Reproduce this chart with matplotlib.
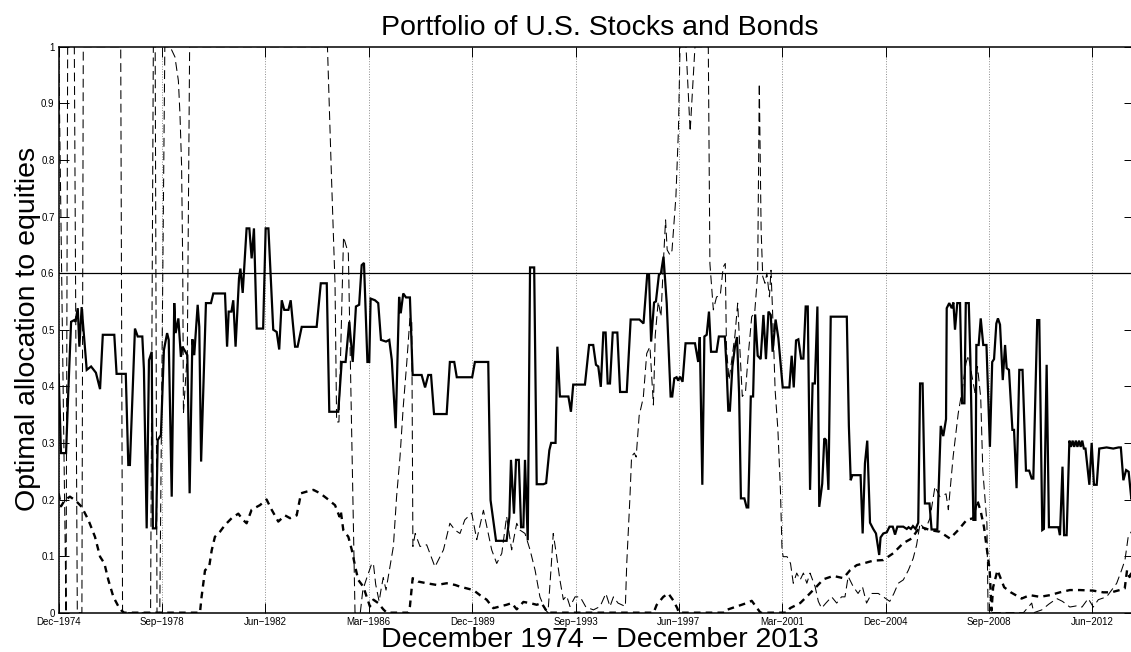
import matplotlib
matplotlib.use("Agg")
import matplotlib.pyplot as plt

plt.rcParams['font.family'] = ['Liberation Sans', 'DejaVu Sans']

# ---------------- data (x = months since Dec-1974) ----------------
tick_months = [0, 45, 90, 135, 180, 225, 270, 315, 360, 405, 450]
tick_labels = ['Dec\u22121974', 'Sep\u22121978', 'Jun\u22121982', 'Mar\u22121986',
               'Dec\u22121989', 'Sep\u22121993', 'Jun\u22121997', 'Mar\u22122001',
               'Dec\u22122004', 'Sep\u22122008', 'Jun\u22122012']
y_ticks = [0, 0.1, 0.2, 0.3, 0.4, 0.5, 0.6, 0.7, 0.8, 0.9, 1.0]
y_tick_labels = ['0', '0.1', '0.2', '0.3', '0.4', '0.5', '0.6', '0.7', '0.8', '0.9', '1']
benchmark = 0.6
n_months = 468

solid_m = [0, 1, 3.2, 4.2, 5.4, 6.8, 7.3, 8.3, 9.0, 10, 12.2, 14.1, 16.2, 18, 19.2, 24.2, 25.2, 29.2,
           30.3, 31, 33.2, 34.4, 36.4, 37.1, 38.3, 39.3, 40.5, 41, 42.4, 43.1, 44.5, 45.8, 47.2, 47.9,
           49.2, 50.3, 50.9, 52.1, 53.2, 53.9, 56, 57, 58.2, 59, 60.5, 61.2, 62, 64.1, 66.3, 67.3,
           72.4, 73.3, 74, 75.2, 76, 77, 78.5, 79.1, 80.1, 81.8, 83, 84, 85, 86.2, 89, 90.1, 91.3,
           93.4, 94.9, 96, 97.1, 98.2, 100, 101, 102.9, 104, 105.8, 112.3, 114.1, 116.7, 117.8, 121.7,
           123.2, 124.9, 126.5, 128, 129.4, 130.8, 131.9, 132.9, 134.4, 135.2, 135.8, 137.7, 139.1,
           140.3, 142.5, 143.9, 145, 146.7, 148.2, 148.9, 150, 151.2, 152.9, 154.1, 158, 159.5, 160.9,
           162.1, 163.4, 168.9, 170.3, 172.2, 173.3, 180, 181.2, 187, 188, 188.8, 190.4, 195, 196.2,
           196.9, 198.2, 199.1, 200.3, 201.3, 202.3, 203, 204.2, 205.2, 207, 208.1, 211, 212.2, 213.6,
           214.4, 216.3, 217.1, 218.2, 221.9, 223, 224, 229.1, 230.9, 232.7, 233.9, 234.9, 236, 237.1,
           238.1, 239, 240, 241.2, 243.2, 244.4, 247.3, 249, 252.8, 254.6, 256.2, 257, 257.9, 259.2,
           260, 261.3, 262.2, 263.3, 264.7, 266.4, 267.1, 268, 269, 269.7, 270.5, 271.6, 272.9, 277,
           278.4, 279.1, 280.2, 281.1, 282.1, 283.1, 284, 286.4, 287.4, 290, 290.7, 291.5, 292.2,
           293.3, 294.4, 295.3, 296.2, 297, 298.5, 299.5, 300.2, 301.3, 302.3, 303.2, 304.3, 305.6,
           306.8, 307.9, 309, 310, 310.8, 312.1, 313.3, 315.2, 318.1, 319.1, 320, 321, 322, 323.2,
           324.2, 325.2, 326.1, 327.1, 328.2, 329.2, 330.3, 331.1, 332.4, 333.3, 334.1, 335.1, 336.1,
           343.1, 344, 344.8, 345.5, 349.1, 350, 351, 352, 353.2, 354.6, 355.8, 357.2, 357.8, 359,
           360.5, 361.7, 363.1, 364.1, 365.1, 367.7, 369.2, 370, 371, 371.9, 373, 374.2, 375, 376.1,
           377.1, 379.1, 380, 382.5, 384, 385.1, 386.3, 386.6, 387.7, 388.8, 389.5, 390.2, 391.2,
           392.4, 393.3, 394.3, 394.9, 396.2, 396.9, 398.2, 399.1, 399.5, 400.5, 401.4, 402.5, 403.9,
           405.4, 406.4, 407.2, 408.2, 408.9, 409.8, 411, 412, 412.7, 413.7, 415.2, 415.9, 417, 418.2,
           419.6, 421.1, 422.5, 423.6, 424.3, 426, 426.9, 428.2, 428.9, 430.1, 431.1, 435.2, 435.9,
           437, 437.7, 438.8, 440, 440.7, 441.4, 442.1, 442.8, 443.5, 444.2, 444.9, 445.6, 446.3, 447,
           448.7, 449.7, 450.7, 451.9, 453, 456.2, 459.1, 461.4, 462.4, 463.5, 464.7, 465.8, 467, 468]
solid_v = [0.42, 0.282, 0.282, 0.393, 0.514, 0.517, 0.514, 0.538, 0.47, 0.54, 0.429, 0.435, 0.424, 0.395,
           0.491, 0.491, 0.422, 0.422, 0.261, 0.261, 0.502, 0.488, 0.488, 0.43, 0.149, 0.446, 0.461,
           0.149, 0.149, 0.305, 0.314, 0.464, 0.494, 0.482, 0.205, 0.547, 0.494, 0.52, 0.452, 0.47,
           0.455, 0.211, 0.483, 0.455, 0.544, 0.505, 0.267, 0.547, 0.547, 0.564, 0.564, 0.47, 0.532,
           0.532, 0.552, 0.47, 0.591, 0.608, 0.565, 0.679, 0.679, 0.626, 0.679, 0.502, 0.502, 0.679,
           0.679, 0.5, 0.496, 0.465, 0.552, 0.535, 0.535, 0.552, 0.47, 0.47, 0.505, 0.505, 0.582,
           0.582, 0.355, 0.355, 0.443, 0.443, 0.514, 0.443, 0.541, 0.544, 0.614, 0.618, 0.443, 0.443,
           0.555, 0.552, 0.547, 0.482, 0.479, 0.482, 0.447, 0.326, 0.558, 0.529, 0.564, 0.557, 0.557,
           0.42, 0.42, 0.398, 0.42, 0.42, 0.351, 0.351, 0.443, 0.443, 0.416, 0.416, 0.443, 0.443,
           0.199, 0.175, 0.127, 0.127, 0.169, 0.27, 0.175, 0.27, 0.27, 0.151, 0.151, 0.27, 0.128,
           0.61, 0.61, 0.227, 0.227, 0.229, 0.287, 0.3, 0.3, 0.47, 0.382, 0.382, 0.355, 0.403, 0.403,
           0.473, 0.473, 0.438, 0.435, 0.399, 0.495, 0.495, 0.405, 0.405, 0.495, 0.495, 0.39, 0.39,
           0.518, 0.518, 0.511, 0.597, 0.597, 0.479, 0.548, 0.55, 0.597, 0.6, 0.629, 0.547, 0.382,
           0.382, 0.414, 0.416, 0.41, 0.417, 0.408, 0.476, 0.476, 0.443, 0.487, 0.226, 0.488, 0.491,
           0.532, 0.461, 0.461, 0.488, 0.488, 0.438, 0.357, 0.357, 0.435, 0.47, 0.487, 0.388, 0.202,
           0.202, 0.186, 0.186, 0.382, 0.382, 0.527, 0.454, 0.448, 0.526, 0.448, 0.532, 0.526, 0.461,
           0.518, 0.485, 0.398, 0.398, 0.454, 0.398, 0.481, 0.483, 0.449, 0.449, 0.541, 0.541, 0.217,
           0.405, 0.405, 0.541, 0.187, 0.228, 0.308, 0.305, 0.217, 0.523, 0.523, 0.33, 0.234, 0.243,
           0.243, 0.14, 0.264, 0.304, 0.159, 0.148, 0.14, 0.102, 0.133, 0.14, 0.142, 0.152, 0.152,
           0.138, 0.152, 0.152, 0.148, 0.151, 0.148, 0.153, 0.148, 0.159, 0.405, 0.405, 0.193, 0.193,
           0.147, 0.147, 0.33, 0.312, 0.342, 0.538, 0.547, 0.538, 0.548, 0.5, 0.547, 0.547, 0.37,
           0.37, 0.547, 0.547, 0.448, 0.164, 0.164, 0.473, 0.473, 0.52, 0.473, 0.473, 0.293, 0.443,
           0.448, 0.511, 0.52, 0.509, 0.411, 0.473, 0.432, 0.429, 0.323, 0.323, 0.22, 0.429, 0.429,
           0.251, 0.251, 0.237, 0.237, 0.517, 0.517, 0.146, 0.148, 0.438, 0.151, 0.151, 0.137, 0.258,
           0.137, 0.137, 0.304, 0.293, 0.304, 0.293, 0.304, 0.293, 0.304, 0.293, 0.304, 0.29, 0.29,
           0.226, 0.3, 0.226, 0.226, 0.29, 0.292, 0.29, 0.292, 0.292, 0.234, 0.252, 0.249, 0.2, 0.21]

thin_m = [0, 3.2, 3.9, 6.8, 8.1, 10.1, 10.7, 27, 27.8, 40, 41.2, 42, 42.8, 44, 46.2, 48.5, 50.6, 52.1,
          52.8, 53.5, 54, 54.3, 56, 57, 117, 118.1, 118.8, 119.5, 120.3, 121, 122, 124, 126.1, 129,
          131.3, 132.4, 134, 136.3, 137, 138, 139.5, 140.5, 141.3, 142.5, 145.7, 147.1, 148.6, 150,
          151.5, 152.9, 153.7, 154.2, 155.2, 157.3, 160.2, 163.8, 167.5, 170.3, 172.5, 174.7, 176.8,
          179.8, 182, 184.9, 187, 188.5, 190.7, 192.9, 195, 197.2, 199.4, 200.8, 203, 205.2, 207.4,
          209.5, 211.7, 213, 214.4, 215.3, 216.8, 218.2, 219.7, 221.1, 222.6, 224.8, 227, 229.5,
          232.8, 235.7, 238.2, 240, 241.5, 243.5, 246.7, 247.3, 248.7, 249.4, 250.6, 251.4, 252.7,
          254.5, 256, 257.4, 258.9, 259.7, 261, 262.2, 263.3, 264.2, 264.9, 266.1, 267, 268.7, 269.8,
          270.5, 273.1, 274.9, 277, 282.8, 283.5, 285, 286.4, 288, 289.3, 290.2, 290.7, 291.8, 293,
          294.4, 295.6, 296.5, 297.6, 299, 300, 301.7, 303, 304.3, 305, 305.8, 306.5, 307.5, 308.3,
          309.4, 310.1, 310.8, 311.9, 313.1, 314.2, 314.9, 315.4, 317.1, 318.6, 319.8, 321.3, 322.8,
          324.2, 325.7, 327.1, 329.3, 330.7, 332.1, 334, 336.5, 338.7, 340.8, 342.3, 343.7, 345.9,
          348, 349.9, 351.7, 353.9, 356.8, 359, 361.8, 363.6, 365.5, 367.7, 369.9, 372, 373.5, 375,
          377.2, 379.3, 381.5, 383.6, 386.3, 387.3, 389.4, 391.6, 393.1, 395, 396, 397.5, 398.9, 400,
          401.4, 402.3, 403.3, 404.1, 404.6, 405, 420, 423.6, 424.5, 428, 431, 434.5, 437, 440.2, 443,
          445.5, 448.2, 450.4, 452.6, 456.2, 458.4, 460.6, 462.7, 464.2, 465.6, 468]
thin_v = [1, 0, 1, 1, 0, 0, 1, 1, 0, 0, 1, 1, 0, 0, 1, 1, 0.982, 0.94, 0.88, 0.79, 0.61, 0.352, 0.46, 1,
          1, 0.853, 0.764, 0.676, 0.58, 0.337, 0.337, 0.664, 0.635, 0, 0, 0.04, 0.06, 0.087, 0.087,
          0.05, 0.02, 0.045, 0.062, 0.04, 0.117, 0.205, 0.276, 0.364, 0.44, 0.52, 0.52, 0.117, 0.14,
          0.117, 0.12, 0.081, 0.111, 0.158, 0.146, 0.14, 0.164, 0.176, 0.129, 0.181, 0.14, 0.111,
          0.087, 0.105, 0.17, 0.111, 0.158, 0.146, 0.14, 0.111, 0.075, 0.028, 0.006, 0, 0.081, 0.14,
          0.099, 0.058, 0.023, 0.03, 0.011, 0.028, 0.028, 0.01, 0.005, 0.011, 0.034, 0.011, 0.028,
          0.017, 0.011, 0.087, 0.205, 0.276, 0.282, 0.275, 0.348, 0.38, 0.458, 0.47, 0.367, 0.49,
          0.55, 0.523, 0.623, 0.694, 0.641, 0.632, 0.64, 0.735, 0.853, 1, 1, 0.85, 1, 1, 0.617,
          0.535, 0.558, 0.56, 0.611, 0.617, 0.47, 0.411, 0.446, 0.49, 0.547, 0.47, 0.382, 0.39,
          0.446, 0.523, 0.53, 0.6, 0.935, 0.676, 0.594, 0.582, 0.6, 0.558, 0.605, 0.53, 0.393, 0.323,
          0.217, 0.111, 0.099, 0.099, 0.087, 0.052, 0.07, 0.058, 0.07, 0.052, 0.07, 0.046, 0.02,
          0.008, 0.017, 0.028, 0.017, 0.028, 0.028, 0.064, 0.046, 0.034, 0.046, 0.017, 0.034, 0.034,
          0.028, 0.02, 0.034, 0.052, 0.058, 0.075, 0.096, 0.12, 0.158, 0.146, 0.167, 0.223, 0.205,
          0.21, 0.182, 0.276, 0.352, 0.388, 0.441, 0.455, 0.42, 0.389, 0.435, 0.38, 0.252, 0.2,
          0.158, 0.004, 0, 0, 0.017, 0, 0.005, 0.015, 0.025, 0.02, 0.01, 0.012, 0.01, 0.025, 0.01,
          0.023, 0.028, 0.04, 0.052, 0.075, 0.093, 0.134, 0.15]

thick_m = [0, 1, 2.7, 4.9, 7.4, 10, 12.9, 15.8, 18, 19.9, 21.6, 23.8, 26, 27.4, 28.5, 61.5, 62.2, 63.7,
           65.5, 66.6, 68, 70.2, 72.4, 75.3, 78.2, 80, 81.8, 84, 87.6, 90.5, 92.7, 95.6, 98.5, 100.7,
           103.6, 105.5, 108, 110.9, 113.8, 116.7, 120.3, 122.2, 122.8, 123.9, 126.1, 127.6, 129.1,
           130.4, 132.6, 134.1, 135.5, 137, 139.1, 141.3, 142.8, 152.2, 152.9, 154.1, 156.5, 160.2,
           164.6, 168.9, 172.6, 174.7, 177.6, 180.5, 183.4, 186.3, 189.2, 192.1, 195, 197.2, 199.4,
           202.3, 205.2, 208.1, 210.2, 212.4, 213, 259, 260.3, 263.2, 265.4, 267.5, 269.3, 270, 290,
           290.8, 295.2, 299.5, 301.7, 304.6, 305.5, 317, 318.4, 322.8, 326.3, 329.9, 332.9, 337.2,
           341.6, 344.5, 347.4, 350.3, 354.6, 359, 363.3, 367.7, 371.3, 375, 379.3, 383.6, 388, 391.6,
           395.3, 398.2, 399.9, 401.4, 402.8, 405.3, 406.1, 406.8, 408.7, 411.6, 414.5, 419.2, 422.8,
           427.2, 431.5, 435.9, 440.2, 444.5, 450.3, 454.7, 458.3, 461.9, 464.1, 465.1, 466.2, 468]
thick_v = [0.211, 0.188, 0.199, 0.205, 0.198, 0.187, 0.164, 0.134, 0.099, 0.087, 0.058, 0.028, 0.011,
           0.0035, 0, 0, 0.028, 0.075, 0.081, 0.11, 0.134, 0.143, 0.155, 0.167, 0.175, 0.165, 0.158,
           0.182, 0.19, 0.2, 0.182, 0.161, 0.172, 0.167, 0.172, 0.211, 0.214, 0.217, 0.211, 0.202,
           0.19, 0.17, 0.18, 0.146, 0.134, 0.111, 0.081, 0.058, 0.046, 0.028, 0.011, 0.023, 0.017,
           0.006, 0, 0, 0.011, 0.061, 0.055, 0.052, 0.049, 0.052, 0.049, 0.046, 0.043, 0.04, 0.031,
           0.023, 0.008, 0.011, 0.014, 0.017, 0.006, 0.019, 0.017, 0.014, 0.017, 0.003, 0, 0, 0.0136,
           0.028, 0.034, 0.022, 0.008, 0, 0, 0.005, 0.011, 0.017, 0.021, 0.005, 0, 0, 0.008, 0.017,
           0.031, 0.046, 0.059, 0.065, 0.061, 0.075, 0.084, 0.087, 0.092, 0.093, 0.105, 0.123, 0.131,
           0.152, 0.146, 0.143, 0.131, 0.146, 0.164, 0.167, 0.199, 0.179, 0.152, 0.075, 0.004, 0.045,
           0.075, 0.045, 0.036, 0.025, 0.031, 0.028, 0.031, 0.036, 0.04, 0.04, 0.039, 0.036, 0.036,
           0.04, 0.043, 0.075, 0.063, 0.08]

# ---------------- figure ----------------
W, H = 1131, 652
fig = plt.figure(figsize=(W / 100, H / 100), dpi=100)
left, right, top, bottom = 58.7, 1133.7, 46.7, 612.7
ax = fig.add_axes([left / W, (H - bottom) / H, (right - left) / W, (bottom - top) / H])

ax.plot(thin_m, thin_v, color='k', lw=0.75, linestyle=(0, (8.5, 4.5)), zorder=3)
ax.plot(thick_m, thick_v, color='k', lw=1.7, linestyle=(0, (2.8, 2.2)), zorder=4)
ax.plot(solid_m, solid_v, color='k', lw=1.6, solid_joinstyle='miter', zorder=5)
ax.axhline(benchmark, color='k', lw=0.9, zorder=2)

ax.set_xlim(0, n_months)
ax.set_ylim(0, 1)
ax.set_xticks(tick_months)
ax.set_xticklabels(tick_labels, fontsize=7)
ax.set_yticks(y_ticks)
ax.set_yticklabels(y_tick_labels, fontsize=7)
ax.tick_params(direction='in', length=7.5, width=0.7, top=True, right=True, pad=3)
ax.grid(axis='x', linestyle=':', color='0.55', lw=0.7)
ax.set_axisbelow(True)
for s in ax.spines.values():
    s.set_linewidth(1.1)

fig.text(600 / W, 1 - 35 / H, 'Portfolio of U.S. Stocks and Bonds', fontsize=20.5,
         ha='center', va='baseline')
fig.text(600 / W, 1 - 647 / H, 'December 1974 \u2212 December 2013', fontsize=20.5,
         ha='center', va='baseline')
fig.text(28 / W, 1 - 329 / H, 'Optimal allocation to equities', fontsize=20.5,
         ha='center', va='center', rotation=90)

fig.savefig('out.png', dpi=100)
